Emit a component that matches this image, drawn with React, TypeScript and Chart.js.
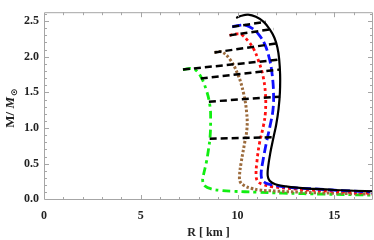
import React, { useEffect, useRef } from "react";
import { Chart, registerables } from "chart.js";

Chart.register(...registerables);

// ---- data (R in km, M in solar masses) ----
const blackR = [9.93, 10.2, 10.55, 10.95, 11.35, 11.65, 11.9, 12.06, 12.15, 12.2, 12.19, 12.12, 12.0, 11.86, 11.7, 11.58, 11.56, 11.66, 11.95, 12.5, 13.2, 14.0, 15.0, 16.0, 17.2];
const blackM = [2.545, 2.575, 2.59, 2.56, 2.49, 2.39, 2.27, 2.13, 1.97, 1.75, 1.5, 1.27, 1.05, 0.87, 0.66, 0.45, 0.33, 0.26, 0.21, 0.18, 0.16, 0.145, 0.13, 0.12, 0.11];

const blueR = [9.73, 10.1, 10.45, 10.8, 11.1, 11.4, 11.65, 11.79, 11.86, 11.83, 11.68, 11.48, 11.3, 11.22, 11.28, 11.45, 11.82, 12.68, 14.0, 14.9, 16.0, 17.2];
const blueM = [2.42, 2.44, 2.44, 2.39, 2.31, 2.18, 1.97, 1.75, 1.49, 1.25, 1.03, 0.78, 0.52, 0.36, 0.27, 0.23, 0.2, 0.166, 0.145, 0.13, 0.115, 0.1];

const redR = [9.59, 9.9, 10.2, 10.55, 10.85, 11.05, 11.3, 11.44, 11.44, 11.33, 11.13, 11.0, 10.96, 11.05, 11.3, 11.82, 13.2, 15.0, 17.2];
const redM = [2.3, 2.32, 2.31, 2.22, 2.1, 1.97, 1.75, 1.49, 1.22, 1.02, 0.78, 0.52, 0.33, 0.25, 0.21, 0.176, 0.14, 0.11, 0.08];

const brownR = [8.81, 9.16, 9.59, 10.02, 10.31, 10.47, 10.49, 10.36, 10.19, 10.1, 10.15, 10.36, 10.7, 11.13, 12.0, 13.2, 15.0, 17.2];
const brownM = [2.06, 2.07, 1.97, 1.75, 1.49, 1.22, 1.0, 0.78, 0.52, 0.32, 0.24, 0.19, 0.155, 0.13, 0.115, 0.1, 0.085, 0.07];

const greenR = [7.18, 7.7, 8.04, 8.39, 8.58, 8.61, 8.58, 8.5, 8.39, 8.24, 8.2, 8.3, 8.64, 9.2, 9.76, 11.0, 12.34, 14.5, 17.2];
const greenM = [1.82, 1.83, 1.75, 1.53, 1.3, 1.1, 0.87, 0.7, 0.52, 0.34, 0.26, 0.19, 0.145, 0.122, 0.112, 0.1, 0.087, 0.072, 0.057];

// black dashed connecting lines: [R start, R end] and [M start, M end]
const connR = [
  [9.73, 11.45],
  [9.59, 11.85],
  [8.81, 12.1],
  [7.18, 12.16],
  [8.1, 12.19],
  [8.52, 12.2],
  [8.56, 11.91],
];
const connM = [
  [2.42, 2.49],
  [2.3, 2.39],
  [2.06, 2.19],
  [1.82, 1.96],
  [1.695, 1.82],
  [1.37, 1.44],
  [0.85, 0.87],
];

const xMajorTicks = [0, 5, 10, 15];
const yMajorTicks = [0, 0.5, 1.0, 1.5, 2.0, 2.5];
const xTitle = "R [ km ]";

const pts = (xs: number[], ys: number[]) => xs.map((x, i) => ({ x, y: ys[i] }));

const frameColor = "#a6a6a6";

const framePlugin = {
  id: "frameTicks",
  afterDatasetsDraw(chart: any) {
    const { ctx, chartArea: a, scales } = chart;
    const xs = scales.x;
    const ys = scales.y;
    ctx.save();
    ctx.strokeStyle = frameColor;
    ctx.lineWidth = 1;
    ctx.beginPath();
    ctx.rect(a.left + 0.5, a.top + 0.5, a.right - a.left - 1, a.bottom - a.top - 1);
    ctx.stroke();
    ctx.beginPath();
    for (let v = 0; v <= 17; v += 1) {
      const major = xMajorTicks.includes(v);
      const len = major ? 5 : 3;
      const px = Math.round(xs.getPixelForValue(v)) + 0.5;
      if (px <= a.left + 1 || px >= a.right - 1) continue;
      ctx.moveTo(px, a.bottom);
      ctx.lineTo(px, a.bottom - len);
      ctx.moveTo(px, a.top);
      ctx.lineTo(px, a.top + len);
    }
    for (let k = 0; k <= 26; k++) {
      const v = k / 10;
      const major = k % 5 === 0;
      const len = major ? 5 : 3;
      const py = Math.round(ys.getPixelForValue(v)) + 0.5;
      if (py <= a.top + 1 || py >= a.bottom - 1) continue;
      ctx.moveTo(a.left, py);
      ctx.lineTo(a.left + len, py);
      ctx.moveTo(a.right, py);
      ctx.lineTo(a.right - len, py);
    }
    ctx.stroke();
    ctx.restore();
  },
  afterDraw(chart: any) {
    const { ctx, chartArea: a } = chart;
    ctx.save();
    ctx.fillStyle = "#222";
    ctx.font = 'bold 12px "Liberation Serif"';
    ctx.textAlign = "center";
    ctx.textBaseline = "alphabetic";
    ctx.fillText(xTitle, (a.left + a.right) / 2, 236);
    const f1 = 'bold 13px "Liberation Serif"';
    const f2 = 'bold italic 13px "Liberation Serif"';
    const f3 = 'bold 9px "DejaVu Sans"';
    const p1 = "M/ ";
    const p2 = "M";
    const p3 = "\u2299";
    ctx.font = f1;
    const w1 = ctx.measureText(p1).width;
    ctx.font = f2;
    const w2 = ctx.measureText(p2).width;
    ctx.font = f3;
    const w3 = ctx.measureText(p3).width;
    const total = w1 + w2 + w3 + 1;
    ctx.translate(13.5, (a.top + a.bottom) / 2 + 2);
    ctx.rotate(-Math.PI / 2);
    ctx.textAlign = "left";
    let x = -total / 2;
    ctx.font = f1;
    ctx.fillText(p1, x, 0);
    x += w1;
    ctx.font = f2;
    ctx.fillText(p2, x, 0);
    x += w2 + 1;
    ctx.font = f3;
    ctx.fillText(p3, x, 3);
    ctx.restore();
  },
};

export default function App() {
  const ref = useRef<HTMLCanvasElement | null>(null);
  useEffect(() => {
    document.body.style.margin = "0";
    if (!ref.current) return;
    const curve = (xs: number[], ys: number[], color: string, width: number, dash: number[]) => ({
      data: pts(xs, ys),
      borderColor: color,
      backgroundColor: color,
      borderWidth: width,
      borderDash: dash,
      pointRadius: 0,
      tension: 0.4,
      fill: false,
    });
    const conns = connR.map((r, i) => ({
      data: pts(r, connM[i]),
      borderColor: "#000",
      backgroundColor: "#000",
      borderWidth: 2.5,
      borderDash: [7, 4],
      pointRadius: 0,
      tension: 0,
      fill: false,
    }));
    const chart = new Chart(ref.current, {
      type: "line",
      data: {
        datasets: [
          ...conns,
          curve(blackR, blackM, "#000000", 2.2, []),
          curve(blueR, blueM, "#1010ff", 2.8, [9, 4]),
          curve(redR, redM, "#ff1010", 2.8, [3, 3]),
          curve(brownR, brownM, "#9c6b3c", 3, [2.5, 2]),
          curve(greenR, greenM, "#11ee11", 2.8, [8, 4, 3, 4]),
        ] as any,
      },
      options: {
        responsive: false,
        animation: false,
        events: [],
        layout: { padding: { top: 0, right: 1, left: 0, bottom: 0 } },
        plugins: { legend: { display: false }, tooltip: { enabled: false } },
        scales: {
          x: {
            type: "linear",
            min: 0,
            max: 17,
            grid: { display: false, drawTicks: false },
            border: { display: false },
            afterBuildTicks: (s: any) => {
              s.ticks = xMajorTicks.map((v) => ({ value: v }));
            },
            afterFit: (s: any) => {
              s.height = 40;
            },
            ticks: {
              padding: 9,
              maxRotation: 0,
              color: "#222",
              font: { family: '"Liberation Serif"', size: 12, weight: "bold" },
              callback: (v: any) => String(v),
            },
          },
          y: {
            type: "linear",
            min: -0.01,
            max: 2.625,
            grid: { display: false, drawTicks: false },
            border: { display: false },
            afterBuildTicks: (s: any) => {
              s.ticks = yMajorTicks.map((v) => ({ value: v }));
            },
            afterFit: (s: any) => {
              s.width = 44;
            },
            ticks: {
              padding: 5,
              color: "#222",
              font: { family: '"Liberation Serif"', size: 12, weight: "bold" },
              callback: (v: any) => Number(v).toFixed(1),
            },
          },
        },
      },
      plugins: [framePlugin],
    });
    return () => chart.destroy();
  }, []);
  return <canvas ref={ref} width={374} height={240} style={{ display: "block" }} />;
}
